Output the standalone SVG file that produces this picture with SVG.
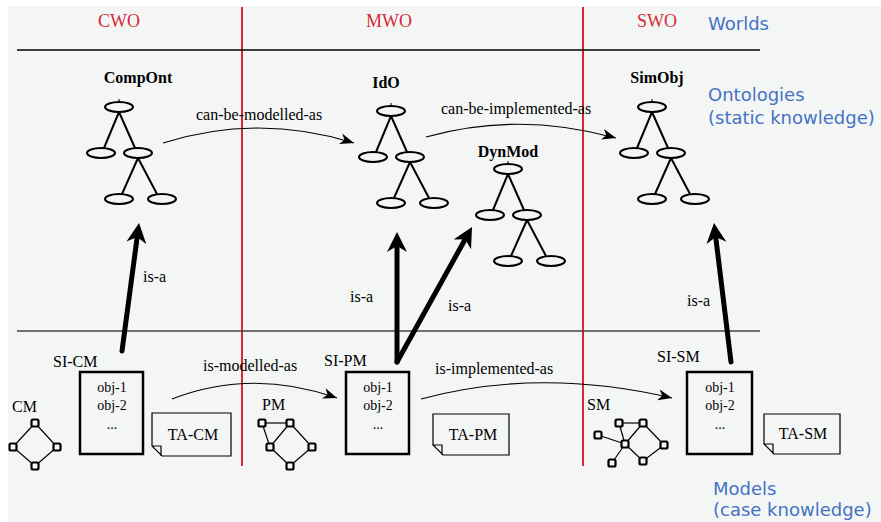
<svg xmlns="http://www.w3.org/2000/svg" xmlns:xlink="http://www.w3.org/1999/xlink" width="881" height="522" viewBox="0 0 881 522">
<style>
.serif{font-family:"Liberation Serif","Times New Roman",serif;fill:#000}
.lbl{font-size:16px}
.bold{font-size:16px;font-weight:bold;text-anchor:middle}
.obj{font-size:14px;text-anchor:middle}
.world{font-family:"Liberation Serif",serif;font-size:18px;fill:#d42a32;text-anchor:middle}
.blue{font-family:"DejaVu Sans",sans-serif;font-size:18px;fill:#4472c4}
.thin{fill:none;stroke:#000;stroke-width:1.2}
.thick{fill:none;stroke:#000;stroke-width:5;stroke-linecap:round}
.si{fill:none;stroke:#000;stroke-width:2.5}
.note{fill:none;stroke:#000;stroke-width:1.2}
.g line{stroke:#000;stroke-width:1.2}
.g rect{fill:#f4f6f6;stroke:#000;stroke-width:2.2}
</style>
<defs>
<marker id="ah" markerUnits="userSpaceOnUse" markerWidth="16" markerHeight="12" refX="14" refY="5.5" orient="auto" viewBox="0 0 16 12">
<path d="M14,5.5 L0,0 L4,5.5 L0,11 Z" fill="#000"/>
</marker>
<marker id="big" markerUnits="userSpaceOnUse" markerWidth="22" markerHeight="22" refX="6" refY="10" orient="auto" viewBox="0 0 22 22">
<path d="M20,10 L0,0 L6,10 L0,20 Z" fill="#000"/>
</marker>
<g id="tree" fill="none" stroke="#000" stroke-width="2">
<line x1="0" y1="-8" x2="0" y2="-5" stroke-width="1"/>
<ellipse cx="0" cy="0" rx="14" ry="5"/>
<line x1="0" y1="5" x2="-15" y2="41"/>
<line x1="0" y1="5" x2="16" y2="41"/>
<ellipse cx="-18" cy="46" rx="14" ry="5"/>
<ellipse cx="19" cy="46" rx="14" ry="5"/>
<line x1="19" y1="51" x2="3" y2="87"/>
<line x1="19" y1="51" x2="38" y2="87"/>
<ellipse cx="0" cy="92" rx="14" ry="5"/>
<ellipse cx="43" cy="92" rx="14" ry="5"/>
</g>
</defs>
<rect x="8" y="6" width="873" height="516" fill="#f4f6f6"/>
<g id="frame">
<line x1="242" y1="7" x2="242" y2="466" stroke="#d42a32" stroke-width="2"/>
<line x1="583" y1="7" x2="583" y2="466" stroke="#d42a32" stroke-width="2"/>
<line x1="17" y1="50" x2="760" y2="50" stroke="#000" stroke-width="1.5"/>
<line x1="17" y1="331" x2="760" y2="331" stroke="#444" stroke-width="1.5"/>
<text class="world" x="119" y="27">CWO</text>
<text class="world" x="389" y="27">MWO</text>
<text class="world" x="657" y="27">SWO</text>
<text class="blue" x="708" y="30">Worlds</text>
<text class="blue" x="708" y="101">Ontologies</text>
<text class="blue" x="708" y="124">(static knowledge)</text>
<text class="blue" x="713" y="495">Models</text>
<text class="blue" x="713" y="516">(case knowledge)</text>
</g>
<g id="CompOnt">
<text class="serif bold" x="138" y="83">CompOnt</text>
<use xlink:href="#tree" x="119" y="107"/>
</g>
<g id="IdO">
<text class="serif bold" x="386" y="88">IdO</text>
<use xlink:href="#tree" x="391" y="111"/>
</g>
<g id="DynMod">
<text class="serif bold" x="508" y="157">DynMod</text>
<use xlink:href="#tree" x="508" y="169"/>
</g>
<g id="SimObj">
<text class="serif bold" x="657" y="83">SimObj</text>
<use xlink:href="#tree" x="652" y="107"/>
</g>
<g id="CM">
<text class="serif lbl" x="12" y="412">CM</text>
<g class="g">
<line x1="35" y1="423" x2="13" y2="447"/><line x1="35" y1="423" x2="57" y2="447"/>
<line x1="13" y1="447" x2="35" y2="466"/><line x1="57" y1="447" x2="35" y2="466"/>
<rect x="31.5" y="419.5" width="7" height="7" rx="1.5"/><rect x="9.5" y="443.5" width="7" height="7" rx="1.5"/>
<rect x="53.5" y="443.5" width="7" height="7" rx="1.5"/><rect x="31.5" y="462.5" width="7" height="7" rx="1.5"/>
</g>
</g>
<g id="SI-CM">
<text class="serif lbl" x="53" y="367">SI-CM</text>
<rect class="si" x="80" y="372" width="63" height="82"/>
<text class="serif obj" x="112" y="392">obj-1</text>
<text class="serif obj" x="112" y="410">obj-2</text>
<text class="serif obj" x="112" y="429">...</text>
</g>
<g id="TA-CM">
<path class="note" d="M152,413 H231 V456 H162 L152,446 Z M152,446 H161 V456"/>
<text class="serif lbl" x="193" y="440" text-anchor="middle">TA-CM</text>
</g>
<g id="PM">
<text class="serif lbl" x="262" y="410">PM</text>
<g class="g">
<line x1="262" y1="423" x2="290" y2="423"/><line x1="262" y1="423" x2="270" y2="447"/>
<line x1="270" y1="447" x2="290" y2="423"/><line x1="290" y1="423" x2="312" y2="447"/>
<line x1="270" y1="447" x2="290" y2="466"/><line x1="312" y1="447" x2="290" y2="466"/>
<rect x="258.5" y="419.5" width="7" height="7" rx="1.5"/><rect x="286.5" y="419.5" width="7" height="7" rx="1.5"/>
<rect x="266.5" y="443.5" width="7" height="7" rx="1.5"/><rect x="308.5" y="443.5" width="7" height="7" rx="1.5"/>
<rect x="286.5" y="462.5" width="7" height="7" rx="1.5"/>
</g>
</g>
<g id="SI-PM">
<text class="serif lbl" x="324" y="366">SI-PM</text>
<rect class="si" x="346" y="372" width="63" height="82"/>
<text class="serif obj" x="378" y="392">obj-1</text>
<text class="serif obj" x="378" y="410">obj-2</text>
<text class="serif obj" x="378" y="429">...</text>
</g>
<g id="TA-PM">
<path class="note" d="M433,414 H509 V455 H443 L433,445 Z M433,445 H442 V455"/>
<text class="serif lbl" x="473" y="440" text-anchor="middle">TA-PM</text>
</g>
<g id="SM">
<text class="serif lbl" x="587" y="410">SM</text>
<g class="g">
<line x1="619" y1="423" x2="643" y2="423"/><line x1="619" y1="423" x2="625" y2="444"/>
<line x1="643" y1="423" x2="625" y2="444"/><line x1="643" y1="423" x2="664" y2="445"/>
<line x1="598" y1="435" x2="625" y2="444"/><line x1="625" y1="444" x2="612" y2="463"/>
<line x1="625" y1="444" x2="643" y2="461"/><line x1="643" y1="461" x2="664" y2="445"/>
<rect x="615.5" y="419.5" width="7" height="7" rx="1.5"/><rect x="639.5" y="419.5" width="7" height="7" rx="1.5"/>
<rect x="594.5" y="431.5" width="7" height="7" rx="1.5"/><rect x="621.5" y="440.5" width="7" height="7" rx="1.5"/>
<rect x="660.5" y="441.5" width="7" height="7" rx="1.5"/><rect x="608.5" y="459.5" width="7" height="7" rx="1.5"/>
<rect x="639.5" y="457.5" width="7" height="7" rx="1.5"/>
</g>
</g>
<g id="SI-SM">
<text class="serif lbl" x="657" y="362">SI-SM</text>
<rect class="si" x="687" y="372" width="65" height="82"/>
<text class="serif obj" x="720" y="392">obj-1</text>
<text class="serif obj" x="720" y="410">obj-2</text>
<text class="serif obj" x="720" y="429">...</text>
</g>
<g id="TA-SM">
<path class="note" d="M764,414 H840 V454 H774 L764,444 Z M764,444 H773 V454"/>
<text class="serif lbl" x="803" y="439" text-anchor="middle">TA-SM</text>
</g>
<g id="connectors">
<path class="thin" d="M163,143 Q258,113 354,143" marker-end="url(#ah)"/>
<text class="serif lbl" x="196" y="120">can-be-modelled-as</text>
<path class="thin" d="M426,137 Q518,111 616,138" marker-end="url(#ah)"/>
<text class="serif lbl" x="441" y="114">can-be-implemented-as</text>
<path class="thin" d="M172,399 Q252,368 337,398" marker-end="url(#ah)"/>
<text class="serif lbl" x="203" y="371">is-modelled-as</text>
<path class="thin" d="M421,399 Q540,367 672,398" marker-end="url(#ah)"/>
<text class="serif lbl" x="435" y="374">is-implemented-as</text>
<line class="thick" x1="122" y1="351" x2="137.2" y2="236.9" marker-end="url(#big)"/>
<text class="serif lbl" x="143" y="282">is-a</text>
<line class="thick" x1="397" y1="362" x2="397" y2="246" marker-end="url(#big)"/>
<text class="serif lbl" x="350" y="302">is-a</text>
<line class="thick" x1="397" y1="362" x2="465.2" y2="239.2" marker-end="url(#big)"/>
<text class="serif lbl" x="448" y="311">is-a</text>
<line class="thick" x1="731" y1="362" x2="715.7" y2="236.9" marker-end="url(#big)"/>
<text class="serif lbl" x="687" y="306">is-a</text>
</g>
</svg>
